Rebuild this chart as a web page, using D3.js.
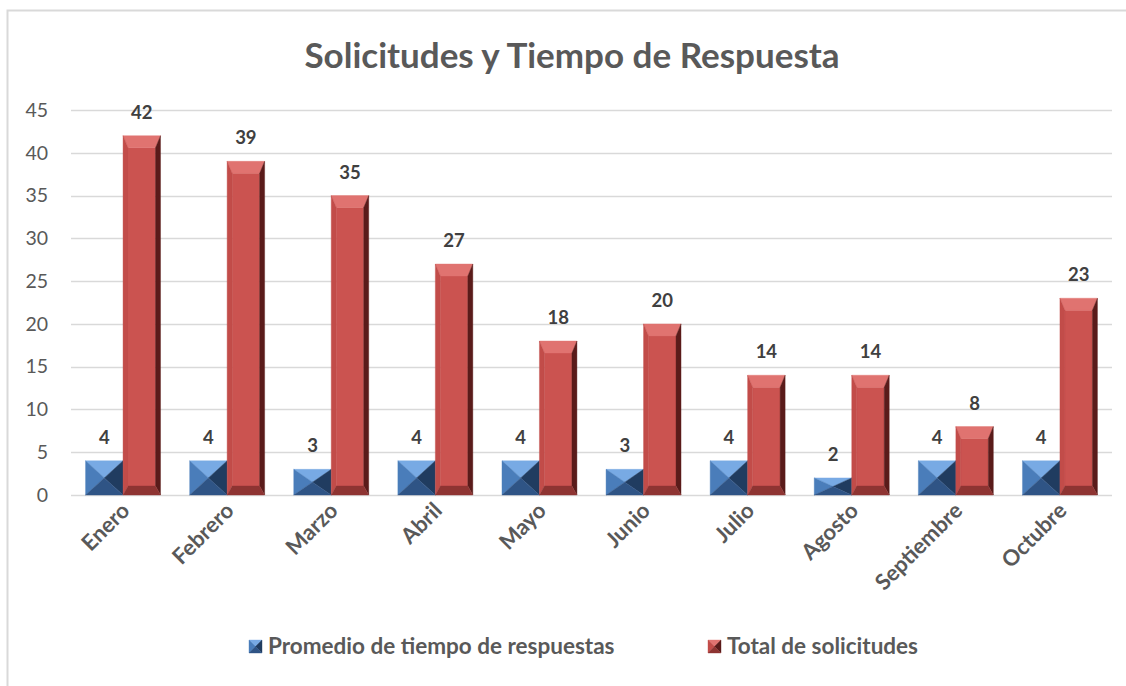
<!DOCTYPE html>
<html>
<head>
<meta charset="utf-8">
<script src="https://cdn.jsdelivr.net/npm/d3@7"></script>
<style>
  body { margin: 0; background: #fff; }
  svg { display: block; font-family: Lato, "Open Sans", sans-serif; }
</style>
</head>
<body>
<svg></svg>
<script>
var width = 1126,
    height = 686;

var months = ["Enero", "Febrero", "Marzo", "Abril", "Mayo", "Junio", "Julio", "Agosto", "Septiembre", "Octubre"];
var promedio = [4, 4, 3, 4, 4, 3, 4, 2, 4, 4];
var total = [42, 39, 35, 27, 18, 20, 14, 14, 8, 23];
var seriesNames = ["Promedio de tiempo de respuestas", "Total de solicitudes"];
var yTicks = [0, 5, 10, 15, 20, 25, 30, 35, 40, 45];

// face colours: front, top, left, right, bottom
var palettes = [
    { front: "#4C80BE", top: "#78AAE4", left: "#4A7DBA", right: "#203C60", bottom: "#2F5485" },
    { front: "#CB5350", top: "#E07370", left: "#C24C49", right: "#5A1B1A", bottom: "#8E3432" }
];

var svg = d3.select("svg")
    .attr("width", width)
    .attr("height", height);

// chart frame (only left/top edges visible)
svg.append("rect")
    .attr("x", 7.5).attr("y", 10.5)
    .attr("width", 1140).attr("height", 700)
    .attr("fill", "none")
    .attr("stroke", "#D9D9D9")
    .attr("stroke-width", 2);

svg.append("text")
    .attr("x", 572).attr("y", 68)
    .attr("text-anchor", "middle")
    .attr("font-size", 35)
    .attr("font-weight", "bold")
    .attr("fill", "#595959")
    .text("Solicitudes y Tiempo de Respuesta");

var x = d3.scaleBand()
    .domain(months)
    .range([71, 1112])
    .paddingInner(0.28)
    .paddingOuter(0.14);

var xs = d3.scaleBand()
    .domain([0, 1])
    .range([0, x.bandwidth()]);

var y = d3.scaleLinear()
    .domain([0, 45])
    .range([495, 110]);

// gridlines
svg.append("g")
    .selectAll("line")
    .data(yTicks)
    .enter().append("line")
    .attr("x1", 71).attr("x2", 1112)
    .attr("y1", d => Math.round(y(d)) + 0.5)
    .attr("y2", d => Math.round(y(d)) + 0.5)
    .attr("stroke", "#D9D9D9")
    .attr("stroke-width", 1.3);

svg.append("g")
    .selectAll("text")
    .data(yTicks)
    .enter().append("text")
    .attr("x", 48)
    .attr("y", d => y(d))
    .attr("dy", "0.35em")
    .attr("text-anchor", "end")
    .attr("font-size", 19.5)
    .attr("fill", "#595959")
    .text(d => d);

function bevelBar(g, bx, by, w, h, pal) {
    var t, b, s;
    if (h < 50) { t = h / 2; b = h / 2; s = w / 2; }
    else { t = 12; b = 9; s = 5; }
    var x0 = bx, x1 = bx + w, y0 = by, y1 = by + h;
    var ix0 = x0 + s, ix1 = x1 - s, iy0 = y0 + t, iy1 = y1 - b;
    var faces = [
        [pal.front, [[ix0, iy0], [ix1, iy0], [ix1, iy1], [ix0, iy1]]],
        [pal.top, [[x0, y0], [x1, y0], [ix1, iy0], [ix0, iy0]]],
        [pal.left, [[x0, y0], [ix0, iy0], [ix0, iy1], [x0, y1]]],
        [pal.right, [[x1, y0], [x1, y1], [ix1, iy1], [ix1, iy0]]],
        [pal.bottom, [[x0, y1], [ix0, iy1], [ix1, iy1], [x1, y1]]]
    ];
    faces.forEach(function (f) {
        g.append("polygon")
            .attr("points", f[1].map(p => p.join(",")).join(" "))
            .attr("fill", f[0])
            .attr("stroke", f[0])
            .attr("stroke-width", 0.4);
    });
}

var series = [promedio, total];
var gBars = svg.append("g");
series.forEach(function (vals, si) {
    vals.forEach(function (v, i) {
        var bx = x(months[i]) + xs(si),
            by = y(v),
            w = xs.bandwidth(),
            h = y(0) - y(v);
        bevelBar(gBars, bx, by, w, h, palettes[si]);
        gBars.append("text")
            .attr("x", bx + w / 2)
            .attr("y", by - 17)
            .attr("text-anchor", "middle")
            .attr("font-size", 18.5)
            .attr("font-weight", "bold")
            .attr("fill", "#404040")
            .text(v);
    });
});

// category labels
svg.append("g")
    .selectAll("text")
    .data(months)
    .enter().append("text")
    .attr("transform", d => "translate(" + (x(d) + x.bandwidth() / 2 + 8) + ",512) rotate(-45)")
    .attr("text-anchor", "end")
    .attr("font-size", 22)
    .attr("font-weight", "bold")
    .attr("fill", "#595959")
    .text(d => d);

// legend
var legendX = [249, 708];
var legend = svg.append("g");
seriesNames.forEach(function (name, i) {
    bevelBar(legend, legendX[i], 640, 13, 13, palettes[i]);
    legend.append("text")
        .attr("x", legendX[i] + 19)
        .attr("y", 654)
        .attr("font-size", 22.5)
        .attr("font-weight", "bold")
        .attr("fill", "#595959")
        .text(name);
});
</script>
</body>
</html>
